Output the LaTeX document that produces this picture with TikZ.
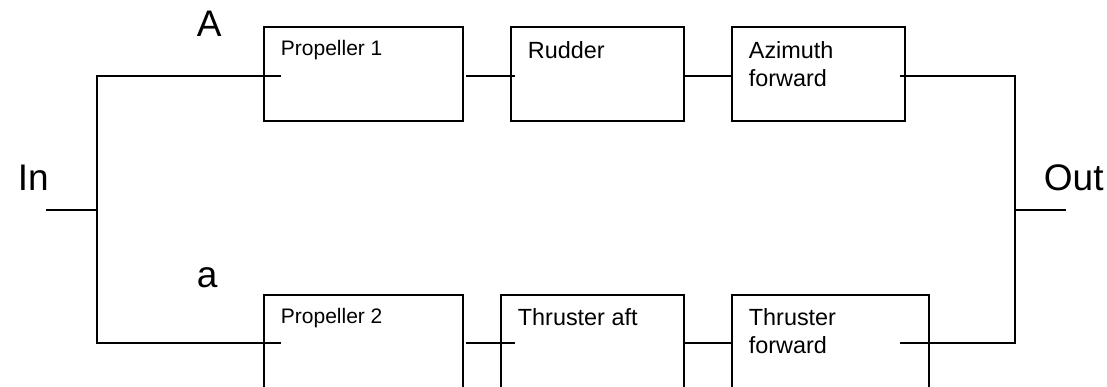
\documentclass[tikz,border=0pt]{standalone}
\usepackage{fontspec}
\setmainfont{Liberation Sans}
\tikzset{
  box/.style={draw,line width=0.9pt,inner sep=0pt,anchor=north west},
  boxtext/.style={anchor=base west,inner sep=0pt,align=left,font=\fontsize{11.7}{14}\selectfont},
  bigtext/.style={anchor=base west,inner sep=0pt,font=\fontsize{18.5}{22}\selectfont}
}

\begin{document}
\begin{tikzpicture}[x=0.5pt,y=-0.5pt,line width=0.9pt]
  %page frame
  \clip (0,0) rectangle (1107,386);

  %upper branch
  \node[box,minimum width=99.5pt,minimum height=47pt] (prop1) at (263,26) {};
  \node[box,minimum width=86.5pt,minimum height=47pt] (rudder) at (510,26) {};
  \node[box,minimum width=86.5pt,minimum height=47pt] (azfwd) at (731,26) {};
  \node[boxtext,font=\fontsize{10.5}{14}\selectfont] (prop1t) at ([shift={(17,29)}]prop1.north west) {Propeller 1};
  \node[boxtext] (ruddert) at ([shift={(17,32)}]rudder.north west) {Rudder};
  \node[boxtext] (azfwdt) at ([shift={(17,60)}]azfwd.north west) {Azimuth\\forward};

  %lower branch
  \node[box,minimum width=99.5pt,minimum height=49pt] (prop2) at (263,294) {};
  \node[box,minimum width=91.5pt,minimum height=49pt] (thraft) at (500,294) {};
  \node[box,minimum width=98.5pt,minimum height=49pt] (thrfwd) at (731,294) {};
  \node[boxtext,font=\fontsize{10.5}{14}\selectfont] (prop2t) at ([shift={(17,29)}]prop2.north west) {Propeller 2};
  \node[boxtext] (thraftt) at ([shift={(17,31)}]thraft.north west) {Thruster aft};
  \node[boxtext] (thrfwdt) at ([shift={(17,59)}]thrfwd.north west) {Thruster\\forward};

  %labels
  \node[bigtext] (upA) at (196,36) {A};
  \node[bigtext] (lowa) at (196,287) {a};
  \node[bigtext] (inlab) at (17,190) {In};
  \node[bigtext] (outlab) at (1043,190) {Out};

  %wire ends
  \coordinate (p1a) at ([shift={(18,50)}]prop1.north west);
  \coordinate (p1b) at ([shift={(2,50)}]prop1.north east);
  \coordinate (rua) at ([shift={(5,50)}]rudder.north west);
  \coordinate (rub) at ([shift={(-2,50)}]rudder.north east);
  \coordinate (aza) at ([shift={(0,50)}]azfwd.north west);
  \coordinate (azb) at ([shift={(-6,50)}]azfwd.north east);
  \coordinate (p2a) at ([shift={(18,49)}]prop2.north west);
  \coordinate (p2b) at ([shift={(2,49)}]prop2.north east);
  \coordinate (taa) at ([shift={(15,49)}]thraft.north west);
  \coordinate (tab) at ([shift={(-2,49)}]thraft.north east);
  \coordinate (tfa) at ([shift={(0,49)}]thrfwd.north west);
  \coordinate (tfb) at ([shift={(-30,49)}]thrfwd.north east);
  \coordinate (jin) at (97,210);
  \coordinate (jout) at (1015,210);
  \coordinate (inend) at (46,210);
  \coordinate (outend) at (1066,210);

  %connections
  \draw (inend) -- (jin);
  \draw (p1a) -| (jin) |- (p2a);
  \draw (p1b) -- (rua);
  \draw (rub) -- (aza);
  \draw (p2b) -- (taa);
  \draw (tab) -- (tfa);
  \draw (azb) -| (jout) |- (tfb);
  \draw (jout) -- (outend);
\end{tikzpicture}
\end{document}
